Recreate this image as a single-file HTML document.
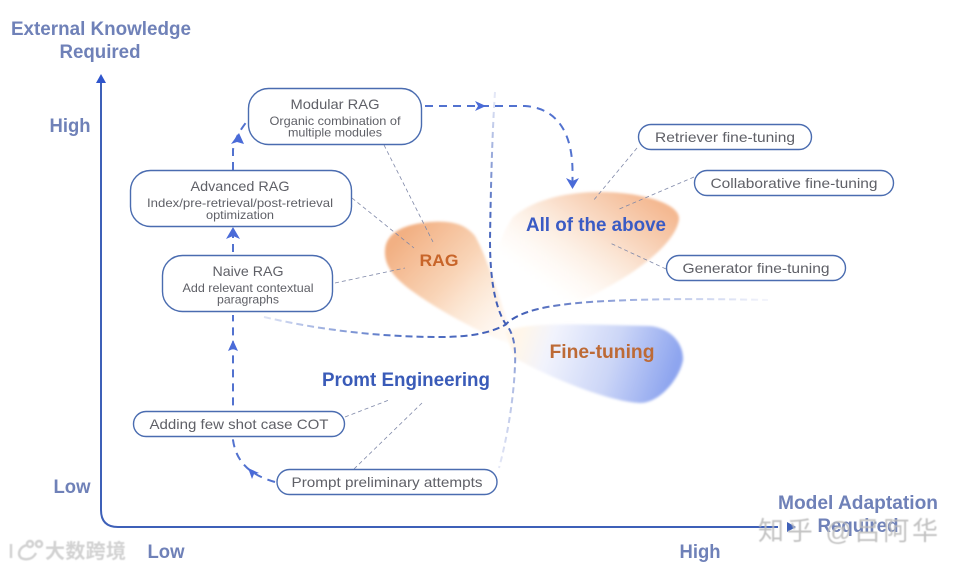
<!DOCTYPE html>
<html>
<head>
<meta charset="utf-8">
<style>
html,body{margin:0;padding:0;background:#fff;width:962px;height:569px;overflow:hidden}
svg{display:block}
text{font-family:"Liberation Sans","Noto Sans CJK SC",sans-serif}
.ax{fill:#6f81b8;font-size:19px;font-weight:bold;text-anchor:middle}
.t{fill:#5f6067;font-size:14px;text-anchor:middle}
.s{fill:#5f6067;font-size:12px;text-anchor:middle}
.box{fill:#fff;stroke:#4a6cb0;stroke-width:1.4}
.lead{fill:none;stroke:#7f88a8;stroke-width:.8;stroke-dasharray:4 3}
.flow{fill:none;stroke:#5272cf;stroke-width:2;stroke-dasharray:8 6}
.arr{fill:#4a6bd8}
</style>
</head>
<body>
<svg width="962" height="569" viewBox="0 0 962 569" xmlns="http://www.w3.org/2000/svg">
<defs>
<filter id="soft" x="-10%" y="-10%" width="120%" height="120%"><feGaussianBlur stdDeviation="1.200"/></filter>
<filter id="wm" x="-5%" y="-20%" width="110%" height="140%"><feGaussianBlur stdDeviation=".5"/></filter>
<linearGradient id="gr" gradientUnits="userSpaceOnUse" x1="398" y1="240" x2="505" y2="340">
<stop offset="0" stop-color="#f2b083"/><stop offset=".45" stop-color="#f9d5b8"/><stop offset="1" stop-color="#fff3e6" stop-opacity=".35"/>
</linearGradient>
<linearGradient id="ga" gradientUnits="userSpaceOnUse" x1="645" y1="195" x2="565" y2="305">
<stop offset="0" stop-color="#f4b992"/><stop offset=".5" stop-color="#fbe6d6"/><stop offset="1" stop-color="#fff8f0" stop-opacity="0"/>
</linearGradient>
<linearGradient id="gal" gradientUnits="userSpaceOnUse" x1="500" y1="0" x2="600" y2="0">
<stop offset="0" stop-color="#fff" stop-opacity=".85"/><stop offset="1" stop-color="#fff" stop-opacity="0"/>
</linearGradient>
<linearGradient id="gf" gradientUnits="userSpaceOnUse" x1="668" y1="388" x2="520" y2="340">
<stop offset="0" stop-color="#8ea5ef"/><stop offset=".4" stop-color="#ccd6f7"/><stop offset=".8" stop-color="#f1f3fd"/><stop offset="1" stop-color="#fff6ea"/>
</linearGradient>
<linearGradient id="gv" gradientUnits="userSpaceOnUse" x1="0" y1="100" x2="0" y2="470">
<stop offset="0" stop-color="#e3e7f6"/><stop offset=".3" stop-color="#4e6cc0"/><stop offset=".6" stop-color="#3f5cb5"/><stop offset=".75" stop-color="#aab8e2"/><stop offset="1" stop-color="#e6e9f7"/>
</linearGradient>
<linearGradient id="gh" gradientUnits="userSpaceOnUse" x1="260" y1="0" x2="770" y2="0">
<stop offset="0" stop-color="#e3e8f7"/><stop offset=".25" stop-color="#5a78c8"/><stop offset=".5" stop-color="#3f5cb5"/><stop offset=".75" stop-color="#a9b8e4"/><stop offset="1" stop-color="#f5f6fc"/>
</linearGradient>
</defs>

<!-- blobs -->
<g filter="url(#soft)">
<path d="M513 217 C535 198 570 192 600 192 C640 192 680 203 679 219 C677 238 650 262 620 280 C590 298 540 322 505 325 C490 290 490 250 513 217 Z" fill="url(#ga)"/>
<path d="M385 250 C386 232 405 224 430 222 C455 220 467 226 475 236 C486 255 497 290 515 345 C490 338 440 312 408 288 C393 276 384 265 385 250 Z" fill="url(#gr)"/>
<path d="M505 332 C525 322 570 324 650 326 C672 328 684 345 683 360 C680 378 660 403 640 403 C610 402 550 378 515 358 Z" fill="url(#gf)"/>
</g>

<!-- divider curves -->
<path d="M495 92 C493 120 491 170 490 240 C490 275 494 305 505 323 C513 332 516 345 515 365 C514 395 508 435 499 468" fill="none" stroke="url(#gv)" stroke-width="2" stroke-dasharray="6 4"/>
<path d="M264 317 C320 330 380 337 440 337 C470 337 490 333 505 325 C520 310 550 305 590 302 C650 298 720 299 768 300" fill="none" stroke="url(#gh)" stroke-width="2" stroke-dasharray="7 4"/>

<!-- axes -->
<path d="M101 82 V510 Q101 527 118 527 H778" fill="none" stroke="#3e60b8" stroke-width="2"/>
<polygon points="101,74 96,83 106,83" fill="#2f55cc"/>
<polygon points="796,527 787,522 787,532" fill="#3e60b8"/>

<!-- flow lines -->
<path class="flow" d="M275 482 C258 477 237 468 233 440 V315"/>
<path class="flow" d="M233 252 V232"/>
<path class="flow" d="M233 170 V150 C234 140 240 130 248 120"/>
<path class="flow" d="M425 106 H525 C555 108 572 130 572.500 170 V182"/>
<polygon class="arr" points="248,468 259,473 254,474 252,479"/>
<polygon class="arr" points="233,340 228,351 233,349 238,351"/>
<polygon class="arr" points="233,227 226,239 233,236 240,239"/>
<polygon class="arr" points="239,133 231,144 237,142 244,144"/>
<polygon class="arr" points="486,106 475,101 478,106 475,111"/>
<polygon class="arr" points="572.500,189 566,178 572.500,181 579,178"/>

<!-- leader lines -->
<path class="lead" d="M384 145 L433 242"/>
<path class="lead" d="M352 198 L414 248"/>
<path class="lead" d="M335 283 L405 268"/>
<path class="lead" d="M637 148 L593 201"/>
<path class="lead" d="M694 177 L617 210"/>
<path class="lead" d="M666 269 L610 243"/>
<path class="lead" d="M345 417 L389 400"/>
<path class="lead" d="M354 469 L422 403"/>

<!-- boxes -->
<rect class="box" x="248.500" y="88.500" width="173" height="56" rx="20"/>
<text class="t" x="335" y="109" textLength="89" lengthAdjust="spacingAndGlyphs">Modular RAG</text>
<text class="s" x="335" y="125" textLength="131" lengthAdjust="spacingAndGlyphs">Organic combination of</text>
<text class="s" x="335" y="136.500" textLength="94" lengthAdjust="spacingAndGlyphs">multiple modules</text>

<rect class="box" x="130.500" y="170.500" width="221" height="56" rx="20"/>
<text class="t" x="240" y="191" textLength="99" lengthAdjust="spacingAndGlyphs">Advanced RAG</text>
<text class="s" x="240" y="207" textLength="186" lengthAdjust="spacingAndGlyphs">Index/pre-retrieval/post-retrieval</text>
<text class="s" x="240" y="219" textLength="68" lengthAdjust="spacingAndGlyphs">optimization</text>

<rect class="box" x="162.500" y="255.500" width="170" height="56" rx="20"/>
<text class="t" x="248" y="276" textLength="71" lengthAdjust="spacingAndGlyphs">Naive RAG</text>
<text class="s" x="248" y="292" textLength="131" lengthAdjust="spacingAndGlyphs">Add relevant contextual</text>
<text class="s" x="248" y="303.500" textLength="62" lengthAdjust="spacingAndGlyphs">paragraphs</text>

<rect class="box" x="638.500" y="124.500" width="173" height="25" rx="12.500"/>
<text class="t" x="725" y="142" textLength="140" lengthAdjust="spacingAndGlyphs">Retriever fine-tuning</text>
<rect class="box" x="694.500" y="170.500" width="199" height="25" rx="12.500"/>
<text class="t" x="794" y="188" textLength="167" lengthAdjust="spacingAndGlyphs">Collaborative fine-tuning</text>
<rect class="box" x="666.500" y="255.500" width="179" height="25" rx="12.500"/>
<text class="t" x="756" y="273" textLength="147" lengthAdjust="spacingAndGlyphs">Generator fine-tuning</text>

<rect class="box" x="133.500" y="411.500" width="211" height="25" rx="12.500"/>
<text class="t" x="239" y="429" textLength="179" lengthAdjust="spacingAndGlyphs">Adding few shot case COT</text>
<rect class="box" x="277" y="469.500" width="220" height="25" rx="12.500"/>
<text class="t" x="387" y="487" textLength="191" lengthAdjust="spacingAndGlyphs">Prompt preliminary attempts</text>

<!-- region labels -->
<text x="439" y="266" font-size="17" font-weight="bold" fill="#c8652a" text-anchor="middle" textLength="39" lengthAdjust="spacingAndGlyphs">RAG</text>
<text x="596" y="231" font-size="19" font-weight="bold" fill="#3a5bc4" text-anchor="middle" textLength="140" lengthAdjust="spacingAndGlyphs">All of the above</text>
<text x="602" y="358" font-size="19" font-weight="bold" fill="#bd6a36" text-anchor="middle" textLength="105" lengthAdjust="spacingAndGlyphs">Fine-tuning</text>
<text x="406" y="386" font-size="19" font-weight="bold" fill="#3a5bb8" text-anchor="middle" textLength="168" lengthAdjust="spacingAndGlyphs">Promt Engineering</text>

<!-- axis labels -->
<text class="ax" x="101" y="35" textLength="180" lengthAdjust="spacingAndGlyphs">External Knowledge</text>
<text class="ax" x="100" y="58" textLength="81" lengthAdjust="spacingAndGlyphs">Required</text>
<text class="ax" x="70" y="132" textLength="41" lengthAdjust="spacingAndGlyphs">High</text>
<text class="ax" x="72" y="493" textLength="37" lengthAdjust="spacingAndGlyphs">Low</text>
<text class="ax" x="166" y="558" textLength="37" lengthAdjust="spacingAndGlyphs">Low</text>
<text class="ax" x="700" y="558" textLength="41" lengthAdjust="spacingAndGlyphs">High</text>
<text class="ax" x="858" y="509" textLength="160" lengthAdjust="spacingAndGlyphs">Model Adaptation</text>
<text class="ax" x="858" y="532" textLength="81" lengthAdjust="spacingAndGlyphs">Required</text>

<!-- watermarks -->
<text x="758" y="540" font-size="26" fill="#bdbdbd" fill-opacity=".9" textLength="180" lengthAdjust="spacing" filter="url(#wm)">知乎 @吕阿华</text>
<text x="45" y="558" font-size="20" font-weight="bold" fill="#d2d2d2" textLength="81" lengthAdjust="spacing" filter="url(#wm)">大数跨境</text>
<g fill="none" stroke="#d2d2d2" stroke-width="2.500" filter="url(#wm)">
<path d="M11 544 V558"/>
<path d="M28 545 C18 546 16 558 24 559 C30 560 34 557 36 553"/>
<circle cx="30" cy="544" r="3"/>
<circle cx="39" cy="544" r="3"/>
</g>
</svg>
</body>
</html>
